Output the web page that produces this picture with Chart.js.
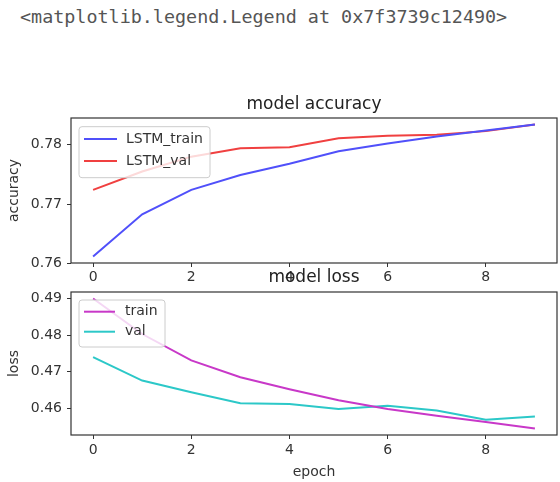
<!DOCTYPE html>
<html><head><meta charset="utf-8">
<script src="https://cdn.jsdelivr.net/npm/chart.js@4.4.0/dist/chart.umd.min.js"></script>
<style>
html,body{margin:0;padding:0;background:#fff;}
body{width:560px;height:482px;position:relative;overflow:hidden;}
#out{position:absolute;left:20px;top:8px;font-family:'DejaVu Sans Mono',monospace;font-size:18.4px;line-height:1;color:#555;white-space:pre;}
canvas{position:absolute;left:0;}
#cA{top:80px;} #cB{top:262px;}
</style></head><body>
<div id="out">&lt;matplotlib.legend.Legend at 0x7f3739c12490&gt;</div>
<canvas id="cA" width="560" height="220"></canvas>
<canvas id="cB" width="560" height="220"></canvas>
<script>
// ---- data ----
const epochs = [0, 1, 2, 3, 4, 5, 6, 7, 8, 9];
const accTrain = [0.7612, 0.7683, 0.7724, 0.7749, 0.7768, 0.7789, 0.7802, 0.7814, 0.7824, 0.7834];
const accVal   = [0.7724, 0.7755, 0.7780, 0.7794, 0.7796, 0.7811, 0.7815, 0.7817, 0.7823, 0.7834];
const lossTrain = [0.4900, 0.4803, 0.4731, 0.4685, 0.4652, 0.4622, 0.4598, 0.4580, 0.4563, 0.4545];
const lossVal   = [0.4740, 0.4676, 0.4644, 0.4614, 0.4612, 0.4598, 0.4607, 0.4594, 0.4569, 0.4578];
const xTicks = [0, 2, 4, 6, 8];
const accTicks = [0.76, 0.77, 0.78];
const lossTicks = [0.46, 0.47, 0.48, 0.49];
const accLabels = ['LSTM_train', 'LSTM_val'];
const lossLabels = ['train', 'val'];

Chart.defaults.font.family = '"DejaVu Sans", sans-serif';
Chart.defaults.color = '#333';

function pts(arr) { return epochs.map((e, i) => ({ x: e, y: arr[i] })); }
function lims(arrs) {
  const all = [].concat(...arrs);
  const lo = Math.min(...all), hi = Math.max(...all), m = (hi - lo) * 0.05;
  return [lo - m, hi + m];
}

const frameAndLegend = {
  id: 'frameAndLegend',
  afterDatasetsDraw(chart, args, L) {
    const { ctx, chartArea: a } = chart;
    ctx.save();
    ctx.strokeStyle = '#333'; ctx.lineWidth = 1.2;
    ctx.strokeRect(a.left, a.top, a.right - a.left, a.bottom - a.top);
    const x0 = a.left + L.x, y0 = a.top + L.y;
    ctx.beginPath();
    if (ctx.roundRect) ctx.roundRect(x0, y0, L.w, L.h, 3); else ctx.rect(x0, y0, L.w, L.h);
    ctx.fillStyle = 'rgba(255,255,255,0.8)'; ctx.fill();
    ctx.strokeStyle = '#cccccc'; ctx.lineWidth = 1; ctx.stroke();
    chart.data.datasets.forEach((ds, i) => {
      const yy = a.top + L.rows[i];
      ctx.beginPath();
      ctx.strokeStyle = ds.borderColor; ctx.lineWidth = ds.borderWidth;
      ctx.moveTo(a.left + L.lineX[0], yy); ctx.lineTo(a.left + L.lineX[1], yy); ctx.stroke();
      ctx.fillStyle = '#333'; ctx.font = '14px "DejaVu Sans"'; ctx.textBaseline = 'middle'; ctx.textAlign = 'left';
      ctx.fillText(ds.label, a.left + L.textX, yy);
    });
    ctx.restore();
  }
};

function scales(yTicks, yl, o) {
  return {
    x: {
      type: 'linear', min: -0.45, max: 9.45,
      afterBuildTicks: s => { s.ticks = xTicks.map(v => ({ value: v })); },
      afterFit: s => { s.height = o.xh; },
      grid: { drawOnChartArea: false, drawTicks: true, tickLength: 4, color: '#333' },
      border: { display: false },
      ticks: { font: { size: 14 }, color: '#333', padding: o.xpad, maxRotation: 0, autoSkip: false, callback: v => String(v) },
      title: o.xtitle ? { display: true, text: o.xtitle, font: { size: 14 }, color: '#333', padding: { top: 0, bottom: 1 } } : { display: false }
    },
    y: {
      type: 'linear', min: yl[0], max: yl[1],
      afterBuildTicks: s => { s.ticks = yTicks.map(v => ({ value: v })); },
      afterFit: s => { s.width = 71; },
      grid: { drawOnChartArea: false, drawTicks: true, tickLength: 4, color: '#333' },
      border: { display: false },
      ticks: { font: { size: 14 }, color: '#333', padding: 5, autoSkip: false, callback: v => v.toFixed(2) },
      title: { display: true, text: o.ytitle, font: { size: 14 }, color: '#333', padding: { top: 6, bottom: 0 } }
    }
  };
}

function ds(label, arr, color) {
  return { label, data: pts(arr), borderColor: color, backgroundColor: color, borderWidth: 2, pointRadius: 0, tension: 0, fill: false };
}

new Chart(document.getElementById('cA'), {
  type: 'line',
  data: { datasets: [ds(accLabels[0], accTrain, 'rgb(80,80,250)'), ds(accLabels[1], accVal, 'rgb(240,64,64)')] },
  options: {
    responsive: false, animation: false, devicePixelRatio: 1,
    layout: { padding: { left: 0, right: 3, top: 0, bottom: 0 } },
    plugins: {
      legend: { display: false }, tooltip: { enabled: false },
      title: { display: true, fullSize: false, text: 'model accuracy', font: { size: 17, weight: 'normal' }, color: '#222', padding: { top: 14, bottom: 3.6 } },
      frameAndLegend: { x: 8, y: 8.7, w: 131, h: 51, rows: [21, 43], lineX: [13, 46], textX: 55 }
    },
    scales: scales(accTicks, lims([accTrain, accVal]), { xh: 37, xpad: 2, ytitle: 'accuracy' })
  },
  plugins: [frameAndLegend]
});

new Chart(document.getElementById('cB'), {
  type: 'line',
  data: { datasets: [ds(lossLabels[0], lossTrain, 'rgb(200,56,200)'), ds(lossLabels[1], lossVal, 'rgb(44,200,200)')] },
  options: {
    responsive: false, animation: false, devicePixelRatio: 1,
    layout: { padding: { left: 0, right: 3, top: 0, bottom: 0 } },
    plugins: {
      legend: { display: false }, tooltip: { enabled: false },
      title: { display: true, fullSize: false, text: 'model loss', font: { size: 17, weight: 'normal' }, color: '#222', padding: { top: 5, bottom: 4.6 } },
      frameAndLegend: { x: 8, y: 8, w: 86, h: 47, rows: [19.7, 39.7], lineX: [13, 44], textX: 54 }
    },
    scales: scales(lossTicks, lims([lossTrain, lossVal]), { xh: 47, xpad: 3, xtitle: 'epoch', ytitle: 'loss' })
  },
  plugins: [frameAndLegend]
});
</script>
</body></html>
